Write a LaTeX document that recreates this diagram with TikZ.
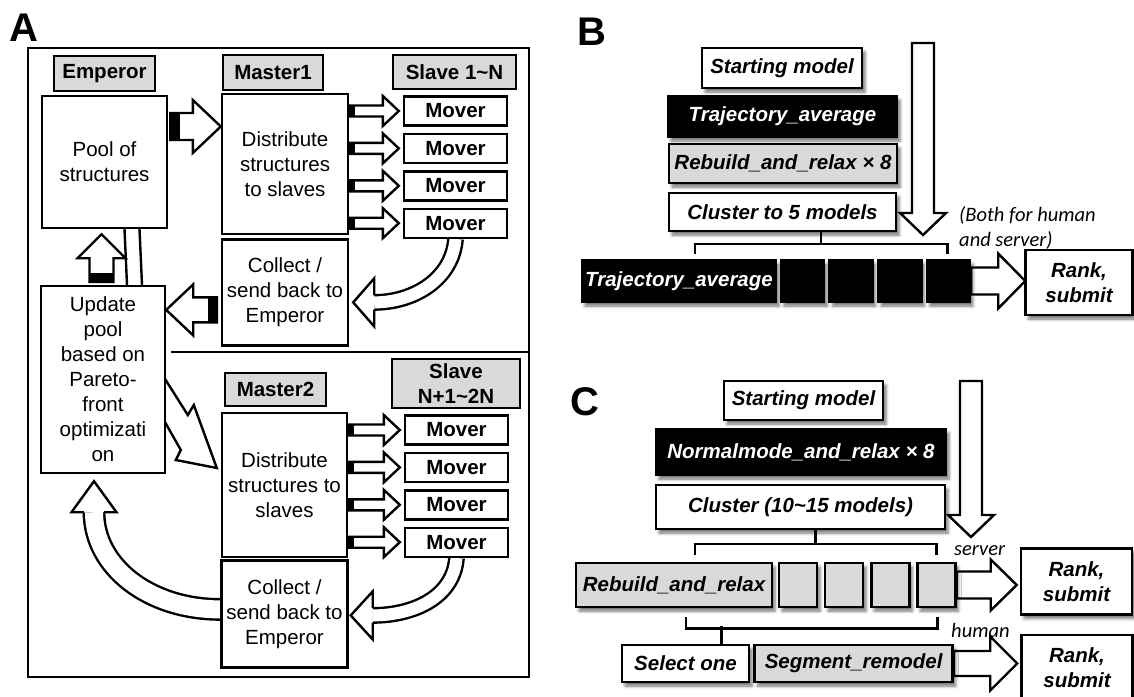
\documentclass[tikz,border=0pt]{standalone}
\usepackage{fontspec}
\setmainfont{Liberation Sans}
\newfontfamily\notefont{Carlito}
\usetikzlibrary{positioning,calc,backgrounds,shadows.blur}
\definecolor{boxgrey}{HTML}{D9D9D9}
\tikzset{
  box/.style   ={rectangle, draw=black, line width=2.4pt, fill=white, align=center,
                 inner sep=0pt, font=\fontsize{20.5}{25}\selectfont},
  tag/.style   ={box, fill=boxgrey, font=\fontsize{20.5}{25}\selectfont\bfseries},
  mover/.style ={box, font=\fontsize{20.5}{25}\selectfont\bfseries,
                 minimum width=103pt, minimum height=29pt},
  stepw/.style ={rectangle, draw=black, line width=2.6pt, fill=white, align=center,
                 inner sep=0pt, font=\fontsize{20.5}{25}\selectfont\bfseries\itshape,
                 blur shadow={shadow xshift=3pt, shadow yshift=-4pt,
                 shadow blur radius=3pt, shadow opacity=55}},
  stepk/.style ={stepw, fill=black, text=white},
  stepg/.style ={stepw, fill=boxgrey},
  cellk/.style ={stepk, minimum width=43pt, minimum height=42pt},
  cellg/.style ={stepg, minimum width=38pt, minimum height=44pt},
  blk/.style   ={draw=black, line width=2.4pt, fill=white, line join=miter},
  dbl/.style   ={draw=black, line width=2.4pt, double=white, double distance=12pt},
  wire/.style  ={line width=2.4pt},
  note/.style  ={font=\notefont\fontsize{20.5}{25}\selectfont\itshape, align=left, inner sep=0pt},
  panel/.style ={font=\fontsize{40}{40}\selectfont\bfseries, inner sep=0pt}
}
% hollow block arrow: from, to, shaft half width, head half width, head length
\newcommand{\blockarrow}[5]{%
  \coordinate (ba) at ($(#2)!#5pt!(#1)$);
  \filldraw[blk] ($(#1)!#3pt!90:(#2)$) -- ($(ba)!#3pt!90:(#2)$) -- ($(ba)!#4pt!90:(#2)$)
    -- (#2) -- ($(ba)!#4pt!-90:(#2)$) -- ($(ba)!#3pt!-90:(#2)$) -- ($(#1)!#3pt!-90:(#2)$) -- cycle;
}
% black end at the tail of a block arrow: from, to, half width, length
\newcommand{\blacktail}[4]{%
  \coordinate (bt) at ($(#1)!#4pt!(#2)$);
  \fill ($(#1)!#3pt!90:(#2)$) -- ($(bt)!#3pt!90:(#2)$) -- ($(bt)!#3pt!-90:(#2)$)
    -- ($(#1)!#3pt!-90:(#2)$) -- cycle;
}

\begin{document}
\begin{tikzpicture}[x=1pt, y=-1pt]
  \useasboundingbox (0,0) rectangle (1134,696);

  % ---------------- A
  \node[panel] (labA) at (24,28) {A};
  \draw[wire] (28,48) rectangle (529,677);

  \node[tag, minimum width=101pt, minimum height=35pt] (emperor) at (104.5,73.5) {Emperor};
  \node[tag, minimum width=100pt, minimum height=35pt] (master1) at (273,72.5) {Master1};
  \node[tag, minimum width=123pt, minimum height=34pt] (slave1) at (454.5,72) {Slave 1\textasciitilde N};

  \node[box, minimum width=125pt, minimum height=132pt] (pool) at (104.5,162) {Pool of\\structures};
  \node[box, minimum width=126pt, minimum height=140pt] (dist1) at (285,164) {Distribute\\structures\\to slaves};
  \node[box, minimum width=126pt, minimum height=106pt, below=3pt of dist1] (coll1) {Collect /\\send back to\\Emperor};

  \node[mover] (mv1) at (455.5,111) {Mover};
  \node[mover, below=6pt of mv1] (mv2) {Mover};
  \node[mover, below=6pt of mv2] (mv3) {Mover};
  \node[mover, below=6pt of mv3] (mv4) {Mover};

  \node[box, minimum width=124pt, minimum height=187pt] (update) at (103,379.5)
    {Update\\pool\\based on\\Pareto-\\front\\optimizati\\on};
  \draw[wire] (171,352) -- (529,352);

  \node[tag, minimum width=101pt, minimum height=33pt] (master2) at (275.5,389.5) {Master2};
  \node[tag, minimum width=128pt, minimum height=49pt] (slave2) at (456,383.5) {Slave\\N+1\textasciitilde 2N};
  \node[box, minimum width=125pt, minimum height=144pt] (dist2) at (284.5,485) {Distribute\\structures to\\slaves};
  \node[box, minimum width=126pt, minimum height=107pt, below=1pt of dist2] (coll2) {Collect /\\send back to\\Emperor};

  \node[mover] (mv5) at (456.5,430) {Mover};
  \node[mover, below=6pt of mv5] (mv6) {Mover};
  \node[mover, below=6pt of mv6] (mv7) {Mover};
  \node[mover, below=6pt of mv7] (mv8) {Mover};

  % ---------------- B
  \node[panel] (labB) at (592,32) {B};
  \node[stepw, minimum width=160pt, minimum height=40pt] (startB) at (782,68) {Starting model};
  \node[stepk, minimum width=229pt, minimum height=41pt] (trajB1) at (782.5,116.5) {Trajectory\_average};
  \node[stepg, minimum width=228pt, minimum height=39pt] (rebB) at (783,163.5) {Rebuild\_and\_relax × 8};
  \node[stepw, minimum width=227pt, minimum height=38pt] (clusB) at (782.5,212) {Cluster to 5 models};

  \node[stepk, minimum width=194pt, minimum height=42pt] (trajB2) at (679,281) {Trajectory\_average};
  \node[cellk] (sqB1) at (802.5,281) {};
  \node[cellk, right=3pt of sqB1] (sqB2) {};
  \node[cellk, right=3pt of sqB2] (sqB3) {};
  \node[cellk, right=3pt of sqB3] (sqB4) {};
  \node[stepw, minimum width=107pt, minimum height=65pt] (rankB) at (1079,282.5) {Rank,\\submit};
  \node[note, anchor=north west] (bothB) at (959,206) {(Both for human\\and server)};

  \coordinate (brB1) at ($(trajB2.north)+(16,-5)$);
  \coordinate (brB2) at ($(sqB4.north)+(-1,-5)$);
  \draw[wire] (brB1) -- ++(0,-10) -| (brB2);
  \coordinate (brBm) at ($(brB1)!0.5!(brB2)+(0,-10)$);
  \draw[wire] (brBm) -- (brBm |- clusB.south);

  % ---------------- C
  \node[panel] (labC) at (584.5,402) {C};
  \node[stepw, minimum width=159pt, minimum height=39pt] (startC) at (803.5,400.5) {Starting model};
  \node[stepk, minimum width=290pt, minimum height=46pt] (normC) at (801,452) {Normalmode\_and\_relax × 8};
  \node[stepw, minimum width=289pt, minimum height=44pt] (clusC) at (800.5,507) {Cluster (10\textasciitilde 15 models)};

  \node[stepg, minimum width=196pt, minimum height=44pt] (rebC) at (674,585) {Rebuild\_and\_relax};
  \node[cellg] (sqC1) at (798,585) {};
  \node[cellg, right=5.5pt of sqC1] (sqC2) {};
  \node[cellg, right=5.5pt of sqC2] (sqC3) {};
  \node[cellg, right=5.5pt of sqC3] (sqC4) {};
  \node[stepw, minimum width=111pt, minimum height=66pt] (rankC1) at (1076.5,581.5) {Rank,\\submit};

  \node[stepw, minimum width=127pt, minimum height=37pt] (selone) at (685.5,663.5) {Select one};
  \node[stepg, minimum width=198pt, minimum height=37pt, right=3pt of selone] (segrem) {Segment\_remodel};
  \node[stepw, minimum width=111pt, minimum height=66pt] (rankC2) at (1077,668) {Rank,\\submit};

  \node[note, anchor=base west] (srvC) at (954,555) {server};
  \node[note, anchor=base west] (humC) at (951,637) {human};

  \coordinate (brC1) at ($(rebC.north)+(21,-7)$);
  \coordinate (brC2) at ($(sqC4.north)+(0,-7)$);
  \draw[wire] (brC1) -- ++(0,-11) -| (brC2);
  \coordinate (brCm) at ($(brC1)!0.5!(brC2)+(0,-11)$);
  \draw[wire] (brCm) -- (brCm |- clusC.south);
  \coordinate (brC3) at ($(rebC.south)+(12,9)$);
  \coordinate (brC4) at ($(sqC4.south)+(1,9)$);
  \draw[wire] (brC3) -- ++(0,11) -| (brC4);
  \draw[wire] ($(selone.north)+(36,0)$) -- ++(0,-18);

  % ---------------- block arrows, behind the boxes
  \begin{scope}[on background layer]
    % pool -> master1
    \coordinate (a1s) at ($(pool.east)+(2,-35.5)$);
    \coordinate (a1e) at ($(dist1.west)+(0,-37.5)$);
    \blockarrow{a1s}{a1e}{13.5}{26.5}{28}
    \blacktail{a1s}{a1e}{13.5}{10}
    % master -> movers
    \foreach \m in {mv1,mv2,mv3,mv4}{
      \coordinate (s\m) at (dist1.east |- \m.west);
      \coordinate (t\m) at ($(\m.west)+(-4,0)$);
      \blockarrow{s\m}{t\m}{5.5}{15}{16}
      \blacktail{s\m}{t\m}{5.5}{6}
    }
    \foreach \m in {mv5,mv6,mv7,mv8}{
      \coordinate (s\m) at (dist2.east |- \m.west);
      \coordinate (t\m) at ($(\m.west)+(-4,0)$);
      \blockarrow{s\m}{t\m}{5.5}{15}{16}
      \blacktail{s\m}{t\m}{5.5}{6}
    }
    % collect1 -> update
    \coordinate (a2s) at ($(coll1.west)+(-4,17.5)$);
    \coordinate (a2e) at (update.east |- a2s);
    \blockarrow{a2s}{a2e}{12.5}{25.5}{27}
    \blacktail{a2s}{a2e}{12.5}{9}
    % update -> pool
    \coordinate (a3s) at ($(update.north)+(-1.5,-3)$);
    \coordinate (a3e) at ($(a3s |- pool.south)+(0,5)$);
    \blockarrow{a3s}{a3e}{12}{24}{24}
    \blacktail{a3s}{a3e}{12}{9}
    % pool -> master2, passing behind update
    \draw[wire] ($(pool.south)+(20,0)$) -- ($(update.north)+(24,0)$);
    \draw[wire] ($(pool.south)+(35,0)$) -- ($(update.north)+(39,0)$);
    \coordinate (dtip) at ($(dist2.west)+(-4,-17)$);
    \filldraw[blk] ($(dtip)+(-74,-125)$) -- ($(dtip)+(-53,-91)$) -- ($(dtip)+(-29,-53)$)
      -- ($(dtip)+(-23,-63)$) -- (dtip) -- ($(dtip)+(-41,-8)$) -- ($(dtip)+(-36,-18)$)
      -- ($(dtip)+(-53,-48)$) -- ($(dtip)+(-74,-82)$) -- cycle;
    % movers -> collect
    \coordinate (c1t) at ($(coll1.east)+(4,10)$);
    \coordinate (c1b) at ($(c1t)+(21,0)$);
    \draw[dbl] (mv4.south) .. controls ($(mv4.south)+(-3,40)$) and ($(c1b)+(40,0)$) .. (c1b);
    \filldraw[blk] ($(c1b)+(0,-7.2)$) -- ($(c1b)+(0,-24)$) -- (c1t) -- ($(c1b)+(0,24)$) -- ($(c1b)+(0,7.2)$);
    \coordinate (c2t) at ($(coll2.east)+(2,1.5)$);
    \coordinate (c2b) at ($(c2t)+(22,0)$);
    \draw[dbl] (mv8.south) .. controls ($(mv8.south)+(-3,40)$) and ($(c2b)+(40,0)$) .. (c2b);
    \filldraw[blk] ($(c2b)+(0,-7.2)$) -- ($(c2b)+(0,-24)$) -- (c2t) -- ($(c2b)+(0,24)$) -- ($(c2b)+(0,7.2)$);
    % collect2 -> update
    \coordinate (c3s) at ($(coll2.west)+(0,-4.5)$);
    \coordinate (c3t) at ($(update.south)+(-9,7)$);
    \coordinate (c3b) at ($(c3t)+(0,31)$);
    \draw[dbl, double distance=18pt] (c3s) .. controls ($(c3s)+(-72,0)$) and ($(c3b)+(0,54)$) .. (c3b);
    \filldraw[blk] ($(c3b)+(-10.2,0)$) -- ($(c3b)+(-22.5,0)$) -- (c3t) -- ($(c3b)+(22.5,0)$) -- ($(c3b)+(10.2,0)$);

    % B
    \coordinate (dBs) at (923,43);
    \coordinate (dBe) at (923,235);
    \blockarrow{dBs}{dBe}{11}{23}{22}
    \coordinate (rBa) at (rankB.west |- sqB4.east);
    \coordinate (rBe) at ($(rBa)+(1,0)$);
    \blockarrow{sqB4.east}{rBe}{13.5}{27.5}{27}

    % C
    \coordinate (dCs) at (971,381);
    \coordinate (dCe) at (971,537);
    \blockarrow{dCs}{dCe}{11}{23}{22}
    \coordinate (rC1a) at (rankC1.west |- sqC4.east);
    \coordinate (rC1e) at ($(rC1a)+(-3,0)$);
    \blockarrow{sqC4.east}{rC1e}{13.5}{25.5}{26}
    \coordinate (rC2a) at (rankC2.west |- segrem.east);
    \coordinate (rC2e) at ($(rC2a)+(-3,0)$);
    \blockarrow{segrem.east}{rC2e}{12.5}{27}{27}
  \end{scope}
\end{tikzpicture}
\end{document}
